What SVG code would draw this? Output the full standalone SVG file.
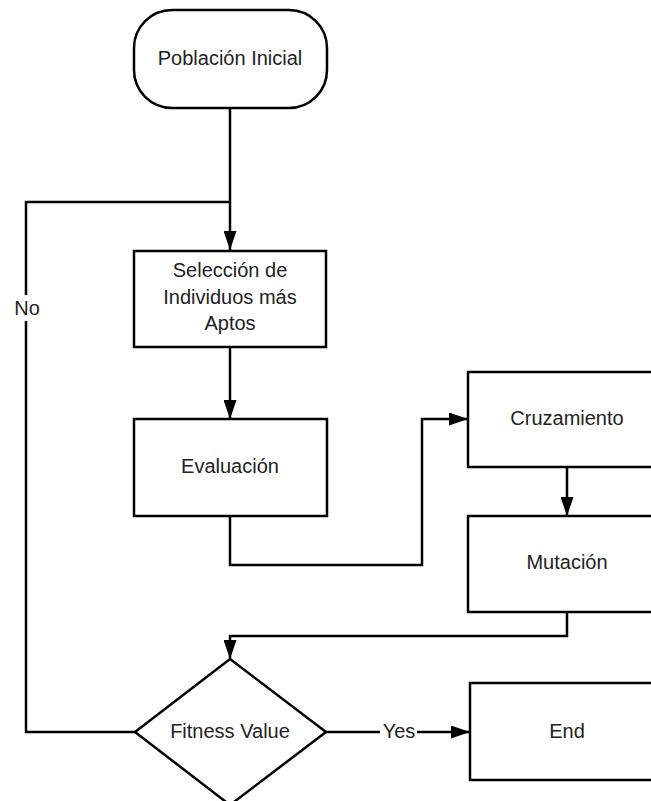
<svg xmlns="http://www.w3.org/2000/svg" width="651" height="801" viewBox="0 0 651 801">
<style>
.n{fill:#fff;stroke:#000;stroke-width:2.5}
.c{fill:none;stroke:#000;stroke-width:2.5}
text{font-family:"Liberation Sans",Arial,sans-serif;font-size:20px;fill:#222;text-anchor:middle;dominant-baseline:central}
</style>
<defs>
<marker id="a" markerWidth="19" markerHeight="13" refX="19" refY="6.5" orient="auto" markerUnits="userSpaceOnUse">
<path d="M0,0 L19,6.5 L0,13 Z" fill="#000"/>
</marker>
</defs>
<rect width="651" height="801" fill="#fff"/>
<g id="connectors">
<path class="c" d="M230,108 V250" marker-end="url(#a)"/>
<path class="c" d="M230,347 V419" marker-end="url(#a)"/>
<path class="c" d="M230,516 V565 H422 V419 H468" marker-end="url(#a)"/>
<path class="c" d="M567,467 V516" marker-end="url(#a)"/>
<path class="c" d="M567,612 V636 H230 V659" marker-end="url(#a)"/>
<path class="c" d="M135,732 H26 V321 M26,295 V202 H230"/>
<path class="c" d="M326,732 H380 M417,732 H470" marker-end="url(#a)"/>
<text x="27" y="308">No</text>
<text x="399" y="731">Yes</text>
</g>
<g id="inicio">
<rect class="n" x="134" y="10" width="193" height="98" rx="38" ry="38"/>
<text x="230" y="58">Población Inicial</text>
</g>
<g id="seleccion">
<rect class="n" x="134" y="251" width="192" height="96"/>
<text x="230" y="270">Selección de</text>
<text x="230" y="297">Individuos más</text>
<text x="230" y="323">Aptos</text>
</g>
<g id="evaluacion">
<rect class="n" x="134" y="419" width="193" height="97"/>
<text x="230" y="466">Evaluación</text>
</g>
<g id="cruzamiento">
<rect class="n" x="468" y="372" width="198" height="95"/>
<text x="567" y="418">Cruzamiento</text>
</g>
<g id="mutacion">
<rect class="n" x="468" y="516" width="198" height="96"/>
<text x="567" y="562">Mutación</text>
</g>
<g id="fitness">
<path class="n" d="M230,659 L326,732 L230,805 L135,732 Z"/>
<text x="230" y="731">Fitness Value</text>
</g>
<g id="end">
<rect class="n" x="470" y="683" width="198" height="97"/>
<text x="567" y="731">End</text>
</g>
</svg>
